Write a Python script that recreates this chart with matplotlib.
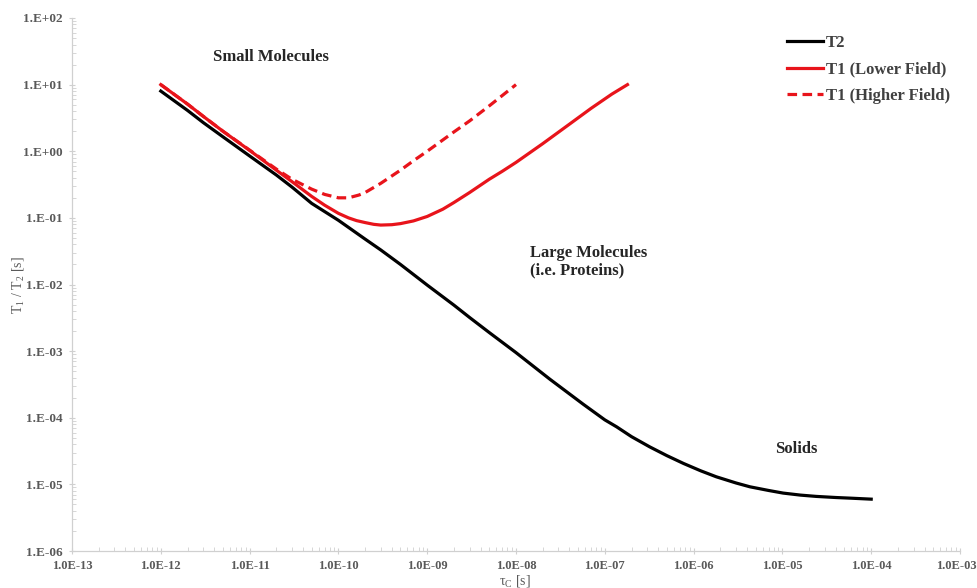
import matplotlib
matplotlib.use("Agg")
import matplotlib.pyplot as plt
from matplotlib.ticker import FixedLocator, LogLocator, NullFormatter
from matplotlib.transforms import ScaledTranslation

plt.rcParams['font.family'] = ['Liberation Serif', 'DejaVu Serif']
plt.rcParams['mathtext.fontset'] = 'custom'
plt.rcParams['mathtext.rm'] = 'Liberation Serif'

# ---- data ----
t2_tau = [1e-12, 2e-12, 3e-12, 5e-12, 1e-11, 2e-11, 3e-11, 5e-11, 1e-10, 2e-10,
          3e-10, 5e-10, 1e-9, 2e-9, 3e-9, 5e-9, 1e-8, 2.4e-8, 5.7e-8, 1.0e-7,
          1.36e-7, 2e-7, 3.2e-7, 5e-7, 7.7e-7, 1.2e-6, 1.8e-6, 3e-6, 4.3e-6,
          7e-6, 1.02e-5, 1.6e-5, 2.4e-5, 4e-5, 6e-5, 1e-4]
t2_val = [8.0, 4.1, 2.7, 1.65, 0.85, 0.44, 0.29, 0.165, 0.092, 0.048,
          0.033, 0.02, 0.0098, 0.0049, 0.0032, 0.0019, 9.5e-4, 3.8e-4, 1.6e-4, 9.3e-5,
          7.3e-5, 5.2e-5, 3.66e-5, 2.7e-5, 2.06e-5, 1.6e-5, 1.3e-5, 1.05e-5, 9.2e-6,
          8.1e-6, 7.4e-6, 6.9e-6, 6.6e-6, 6.35e-6, 6.2e-6, 6.0e-6]

t1_low_tau = [1e-12, 2e-12, 3e-12, 5e-12, 1e-11, 2e-11, 3e-11, 5e-11, 7e-11,
              1e-10, 1.3e-10, 1.6e-10, 2e-10, 2.5e-10, 3e-10, 4e-10, 5e-10,
              7e-10, 1e-9, 1.5e-9, 2e-9, 3e-9, 5e-9, 7e-9, 1e-8, 2e-8, 4e-8,
              7e-8, 1.2e-7, 1.8e-7]
t1_low_val = [10.0, 5.1, 3.35, 2.0, 1.03, 0.52, 0.35, 0.21, 0.155,
              0.117, 0.1, 0.091, 0.085, 0.08, 0.078, 0.079, 0.082,
              0.09, 0.105, 0.135, 0.17, 0.24, 0.38, 0.5, 0.68, 1.3, 2.55,
              4.4, 7.2, 10.0]

t1_high_tau = [1e-12, 2e-12, 3e-12, 5e-12, 1e-11, 2e-11, 3e-11, 5e-11, 7e-11,
               1e-10, 1.3e-10, 1.7e-10, 2e-10, 3e-10, 5e-10, 7e-10, 1e-9,
               2e-9, 3e-9, 5e-9, 1e-8]
t1_high_val = [10.0, 5.1, 3.35, 2.0, 1.04, 0.54, 0.38, 0.27, 0.225,
               0.2, 0.2, 0.22, 0.24, 0.33, 0.52, 0.72, 1.0,
               1.95, 2.85, 4.8, 10.0]

x_ticks = [1e-13, 1e-12, 1e-11, 1e-10, 1e-9, 1e-8, 1e-7, 1e-6, 1e-5, 1e-4, 1e-3]
x_labels = ['1.0E-13', '1.0E-12', '1.0E-11', '1.0E-10', '1.0E-09', '1.0E-08',
            '1.0E-07', '1.0E-06', '1.0E-05', '1.0E-04', '1.0E-03']
y_ticks = [1e-6, 1e-5, 1e-4, 1e-3, 1e-2, 1e-1, 1e0, 1e1, 1e2]
y_labels = ['1.E-06', '1.E-05', '1.E-04', '1.E-03', '1.E-02', '1.E-01',
            '1.E+00', '1.E+01', '1.E+02']

fig = plt.figure(figsize=(9.78, 5.88), dpi=100)
ax = fig.add_axes([72/978, 1-551/588, (960-72)/978, (551-18)/588])
ax.set_xscale('log')
ax.set_yscale('log')
ax.set_xlim(1e-13, 1e-3)
ax.set_ylim(1e-6, 1e2)

red = '#e8141b'
ax.plot(t2_tau, t2_val, color='black', lw=2.3, label='T2')
ax.plot(t1_low_tau, t1_low_val, color=red, lw=2.3, label='T1 (Lower Field)')
ax.plot(t1_high_tau, t1_high_val, color=red, lw=2.3, ls=(0, (3.0, 1.7)),
        label='T1 (Higher Field)')

for s in ['top', 'right']:
    ax.spines[s].set_visible(False)
for s in ['left', 'bottom']:
    ax.spines[s].set_color('#d0d0d0')
    ax.spines[s].set_linewidth(0.9)

ax.xaxis.set_major_locator(FixedLocator(x_ticks))
ax.set_xticklabels(x_labels)
ax.yaxis.set_major_locator(FixedLocator(y_ticks))
ax.set_yticklabels(y_labels)
ax.xaxis.set_minor_locator(LogLocator(base=10, subs=range(2, 10), numticks=20))
ax.yaxis.set_minor_locator(LogLocator(base=10, subs=range(2, 10), numticks=20))
ax.xaxis.set_minor_formatter(NullFormatter())
ax.yaxis.set_minor_formatter(NullFormatter())
ax.tick_params(which='major', direction='inout', length=5, width=0.8, color='#d0d0d0',
               labelcolor='#595959', pad=4)
ax.tick_params(axis='x', which='major', labelsize=9)
ax.tick_params(axis='y', which='major', labelsize=9.5)
ax.tick_params(which='minor', direction='in', length=3, width=0.6, color='#d0d0d0')
for lab in ax.get_xticklabels() + ax.get_yticklabels():
    lab.set_fontweight('bold')

# nudge the last x tick label so it stays inside the figure
last_tick = ax.xaxis.get_major_ticks()[-1]
last_tick.label1.set_horizontalalignment('right')
last_tick.label1.set_transform(last_tick.label1.get_transform() +
                               ScaledTranslation(17/100, 0, fig.dpi_scale_trans))

fig.text(18/978, 1-285/588, 'T$_\\mathregular{1}$ / T$_\\mathregular{2}$ [s]', rotation=90,
         ha='center', va='center', fontsize=10, color='#595959')
fig.text(515/978, 1-581/588, 'τ$_\\mathregular{C}$ [s]', ha='center', va='center',
         fontsize=10, color='#595959')

txt_kw = dict(fontsize=12, fontweight='bold', color='#262626')
ax.text(3.9e-12, 26, 'Small Molecules', ha='left', va='center', **txt_kw)
ax.text(1.45e-8, 0.0296, 'Large Molecules', ha='left', va='center', **txt_kw)
ax.text(1.45e-8, 0.0165, '(i.e. Proteins)', ha='left', va='center', **txt_kw)
ax.text(8.3e-6, 3.4e-5, 'Solids', ha='left', va='center', **txt_kw)

leg = ax.legend(loc='upper left', bbox_to_anchor=(772/978, 1-20/588),
                bbox_transform=fig.transFigure, frameon=False,
                handlelength=2.15, handletextpad=0.2, labelspacing=0.62,
                prop={'family': 'Liberation Serif', 'weight': 'bold', 'size': 12})
for t in leg.get_texts():
    t.set_color('#404040')

fig.savefig('out.png', dpi=100)
